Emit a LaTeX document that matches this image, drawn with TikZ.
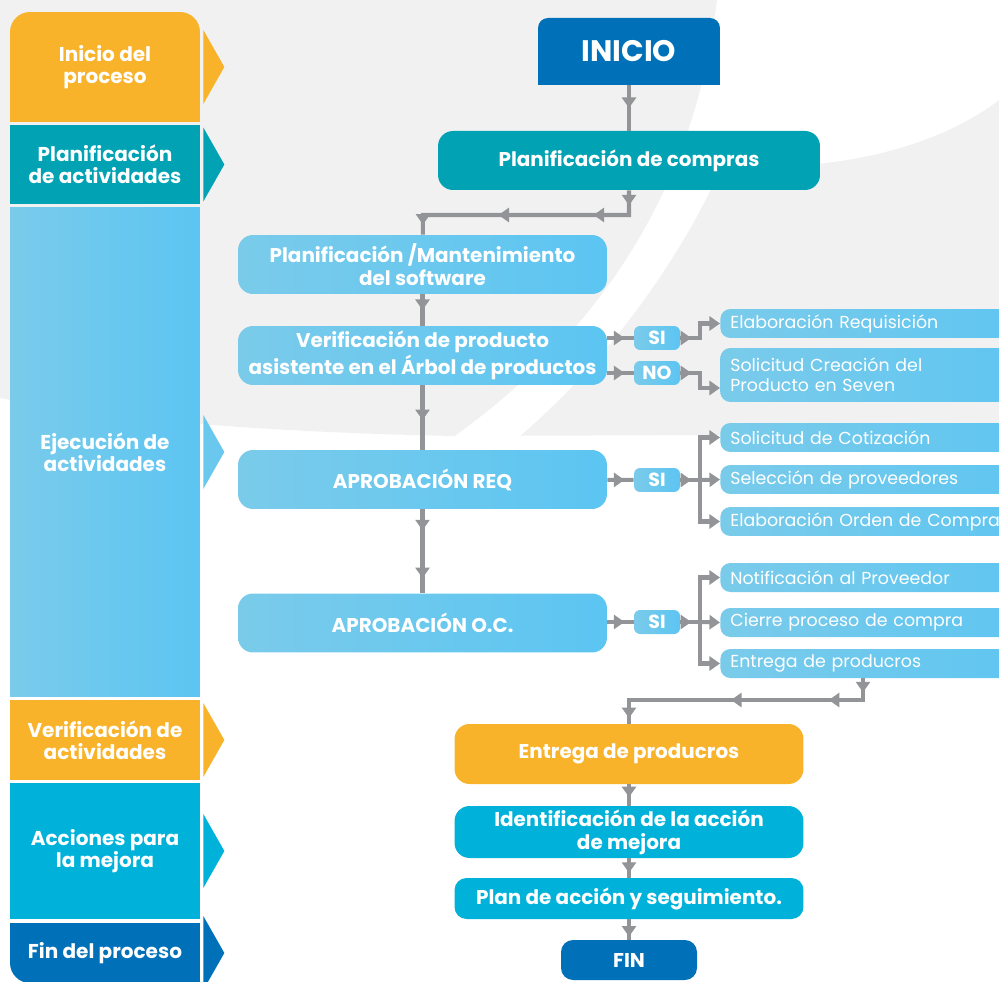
\documentclass[tikz,border=0pt]{standalone}
\usepackage{fontspec}
\setmainfont{Poppins}
\usetikzlibrary{arrows.meta,decorations.markings,positioning}

\definecolor{naranja}{HTML}{F8B32B}
\definecolor{verdeazul}{HTML}{01A2B4}
\definecolor{celesteA}{HTML}{7ACBEA}
\definecolor{celesteB}{HTML}{5CC5F2}
\definecolor{celesteM}{HTML}{6AC8EE}
\definecolor{cian}{HTML}{00B2DA}
\definecolor{azul}{HTML}{0071B9}
\definecolor{gris}{HTML}{929497}
\definecolor{fondo}{HTML}{F1F1F1}

\newcommand\carrilfont{\fontsize{11.4}{12.5}\selectfont\bfseries}
\newcommand\cajafont{\fontsize{11.35}{13}\selectfont\bfseries}
\newcommand\derfont{\fontsize{9.9}{11.4}\selectfont}
\newcommand\sifont{\fontsize{10.8}{12}\selectfont\bfseries}
\newcommand\iniciofont{\fontsize{16.9}{20}\selectfont\bfseries}

\tikzset{
  >={Triangle[length=6pt,width=8pt]},
  flujo/.style={draw=gris, line width=2.3pt},
  flecha/.style={postaction={decorate,decoration={markings,
      mark=at position #1 with {\arrow{Triangle[length=6pt,width=8pt]}}}}},
  carril/.style={text=white, font=\carrilfont, align=center,
      minimum width=3.8cm, inner sep=0pt},
  caja/.style={rounded corners=0.3cm, text=white, font=\cajafont, align=center,
      minimum width=7.38cm, minimum height=1.18cm, inner sep=0pt},
  celeste/.style={left color=celesteA, right color=celesteB},
  sibox/.style={celeste, rounded corners=0.12cm, text=white, font=\sifont,
      minimum width=0.92cm, minimum height=0.48cm, inner sep=0pt},
  derecha/.style={celeste, anchor=west, rounded corners=0.2cm, text=white,
      font=\derfont, text width=6.4cm, align=left, inner xsep=0.2cm,
      inner ysep=0pt, minimum height=0.58cm}
}

\begin{document}
\begin{tikzpicture}[x=0.02cm,y=-0.02cm]
  \useasboundingbox (0,0) rectangle (999,982);

  % fondo
  \fill[fondo] (0,0) -- (999,0) -- (999,434) -- (455,436)
    .. controls (250,432) and (100,418) .. (0,398) -- cycle;
  \fill[white] (717,0) -- (999,0) -- (999,100)
    .. controls (920,160) and (800,172) .. (722,165)
    .. controls (690,240) and (620,350) .. (520,436) -- (455,436)
    .. controls (560,360) and (690,230) .. (717,0) -- cycle;

  % carriles
  \fill[naranja] (10,67) rectangle (200,122);
  \node[carril, fill=naranja, rounded corners=0.4cm, minimum height=2.2cm] (l1) at (105,67) {Inicio del\\proceso};
  \node[carril, fill=verdeazul, minimum height=1.58cm] (l2) at (105,164.5) {Planificación\\de actividades};
  \node[carril, celeste, minimum height=9.8cm] (l3) at (105,452) {Ejecución de\\actividades};
  \node[carril, fill=naranja, minimum height=1.6cm] (l4) at (105,740) {Verificación de\\actividades};
  \node[carril, fill=cian, minimum height=2.72cm] (l5) at (105,851) {Acciones para\\la mejora};
  \fill[azul] (10,923) rectangle (200,953);
  \fill[azul] (105,923) rectangle (200,983);
  \node[carril, fill=azul, rounded corners=0.4cm, minimum height=1.2cm] (l6) at (105,953) {Fin del proceso};
  \foreach \l/\c in {l1/naranja, l2/verdeazul, l3/celesteM, l4/naranja, l5/cian, l6/azul}
    \fill[\c] ([shift={(3,0)}]\l.east) ++(0,37) -- ++(21,-37) -- ++(-21,-37) -- cycle;

  % flujo principal
  \fill[azul] (538,51) rectangle (720,85);
  \node[fill=azul, rounded corners=0.2cm, text=white, font=\iniciofont,
        minimum width=3.64cm, minimum height=1.34cm, inner sep=0pt] (inicio) at (629,51.5) {INICIO};
  \node[caja, fill=verdeazul, minimum width=7.64cm] (plan) at (629,160.5) {Planificación de compras};
  \node[caja, celeste] (mant) at (422.5,264.5) {Planificación /Mantenimiento\\del software};
  \node[caja, celeste] (ver) at (422.5,355.5) {Verificación de producto\\asistente en el Árbol de productos};
  \node[caja, celeste] (req) at (422.5,479.5) {APROBACIÓN REQ};
  \node[caja, celeste] (oc) at (422.5,623) {APROBACIÓN O.C.};

  \node[sibox] (si1) at (657,338) {SI};
  \node[sibox] (no) at (657,373) {NO};
  \node[sibox] (si2) at (657,480) {SI};
  \node[sibox] (si3) at (657,622) {SI};

  \node[derecha] (elab) at (720,323.5) {Elaboración Requisición};
  \node[derecha, minimum height=1.08cm] (solcre) at (720,375) {Solicitud Creación del\\Producto en Seven};
  \node[derecha] (coti) at (720,437.5) {Solicitud de Cotización};
  \node[derecha] (sel) at (720,479.5) {Selección de proveedores};
  \node[derecha] (orden) at (720,521.5) {Elaboración Orden de Compra};
  \node[derecha] (notif) at (720,577.5) {Notificación al Proveedor};
  \node[derecha] (cierre) at (720,622.5) {Cierre proceso de compra};
  \node[derecha] (ent) at (720,663.5) {Entrega de producros};

  \node[caja, fill=naranja, minimum width=6.98cm, minimum height=1.2cm] (entrega) at (629,754) {Entrega de producros};
  \node[caja, fill=cian, minimum width=6.98cm, minimum height=1.04cm] (ident) at (629,832) {Identificación de la acción\\de mejora};
  \node[caja, fill=cian, minimum width=6.98cm, minimum height=0.82cm, rounded corners=0.24cm] (accion) at (629,898.5) {Plan de acción y seguimiento.};
  \node[fill=azul, rounded corners=0.24cm, text=white, font=\cajafont,
        minimum width=2.72cm, minimum height=0.8cm, inner sep=0pt] (fin) at (629,960) {FIN};

  % conectores
  \coordinate (p1) at (629,215);
  \coordinate (p2) at (423,215);
  \coordinate (b1) at (700,338);
  \coordinate (b0) at (700,373);
  \coordinate (b2) at (700,480);
  \coordinate (b3) at (700,622);
  \coordinate (e1) at (863,700);
  \coordinate (e2) at (629,700);

  \draw[flujo, flecha=0.5] (inicio) -- (plan);
  \draw[flujo, line join=miter, flecha=0.06, flecha=0.24, flecha=0.62, flecha=0.96] (plan) -- (p1) -- (p2) -- (mant);
  \draw[flujo, flecha=0.5] (mant) -- (ver);
  \draw[flujo, flecha=0.54] (ver) -- (req);
  \draw[flujo, flecha=0.25, flecha=0.82] (req) -- (oc);

  \draw[flujo, flecha=0.65] (ver.east |- si1) -- (si1);
  \draw[flujo, flecha=0.65] (ver.east |- no) -- (no);
  \draw[flujo, flecha=0.65] (req) -- (si2);
  \draw[flujo, flecha=0.65] (oc.east |- si3) -- (si3);

  \draw[flujo, ->, flecha=0.2] (si1) -- (b1) |- (elab);
  \draw[flujo, ->, flecha=0.2] (no) -- (b0) |- (solcre.west |- 0,388);
  \draw[flujo, flecha=0.55] (si2) -- (b2);
  \draw[flujo, ->] (b2) |- (coti);
  \draw[flujo, ->] (b2) -- (sel.west);
  \draw[flujo, ->] (b2) |- (orden);
  \draw[flujo, flecha=0.55] (si3) -- (b3);
  \draw[flujo, ->] (b3) |- (notif);
  \draw[flujo, ->] (b3) -- (cierre.west);
  \draw[flujo, ->] (b3) |- (ent);

  \draw[flujo, line join=miter, flecha=0.05, flecha=0.2, flecha=0.55, flecha=0.98] (ent.south -| e1) -- (e1) -- (e2) -- (entrega);
  \draw[flujo, flecha=0.6] (entrega) -- (ident);
  \draw[flujo, flecha=0.75] (ident) -- (accion);
  \draw[flujo, flecha=0.85] (accion) -- (fin);
\end{tikzpicture}
\end{document}
